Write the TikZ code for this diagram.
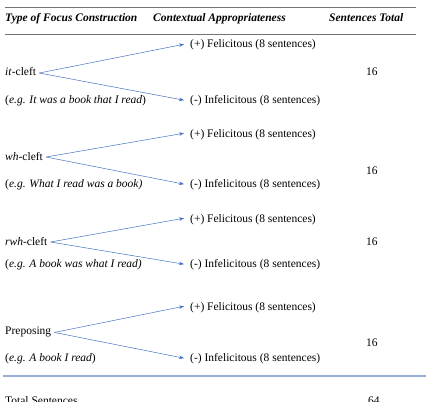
\documentclass[tikz,border=0pt]{standalone}
\usepackage{fontspec}
\setmainfont{Liberation Serif}
\usetikzlibrary{arrows.meta}
\definecolor{arrowblue}{RGB}{68,114,196}
\definecolor{rulegray}{RGB}{115,115,115}
\definecolor{ruleblue}{RGB}{150,175,210}
\begin{document}
\begin{tikzpicture}[x=1pt,y=-1pt,
  txt/.style={anchor=base west,inner sep=0pt,font=\fontsize{11.5}{14}\selectfont},
  hdr/.style={anchor=base west,inner sep=0pt,font=\fontsize{11.5}{14}\selectfont\bfseries\itshape},
  conn/.style={draw=arrowblue,line width=0.5pt,-{Stealth[length=5pt,width=3.5pt]}},
  toprule/.style={draw=rulegray,line width=0.8pt},
  botrule/.style={draw=ruleblue,line width=1.1pt}
]
\useasboundingbox (0,0) rectangle (435,401);
% header
\draw[toprule] (5,7) -- (416,7);
\node[hdr] (h1) at (5,22) {Type of Focus Construction};
\node[hdr] (h2) at (153,22) {Contextual Appropriateness};
\node[hdr] (h3) at (329,22) {Sentences Total};
\draw[toprule] (5,34) -- (416,34);
% row 1
\node[txt] (t1) at (5,76) {\textit{it}-cleft};
\node[txt] (e1) at (5,103) {(\textit{e.g. It was a book that I read})};
\node[txt] (f1) at (190,48) {(+) Felicitous (8 sentences)};
\node[txt] (i1) at (190,103) {(-) Infelicitous (8 sentences)};
\node[txt] (n1) at (366,76) {16};
\draw[conn] ([xshift=3pt,yshift=-1pt]t1.east) -- ([xshift=-6pt,yshift=1pt]f1.west);
\draw[conn] ([xshift=3pt,yshift=-1pt]t1.east) -- ([xshift=-6pt]i1.west);
% row 2
\node[txt] (t2) at (5,160) {\textit{wh}-cleft};
\node[txt] (e2) at (5,187) {(\textit{e.g. What I read was a book)}};
\node[txt] (f2) at (190,137) {(+) Felicitous (8 sentences)};
\node[txt] (i2) at (190,187) {(-) Infelicitous (8 sentences)};
\node[txt] (n2) at (366,174) {16};
\draw[conn] ([xshift=3pt,yshift=-1pt]t2.east) -- ([xshift=-6pt,yshift=1pt]f2.west);
\draw[conn] ([xshift=3pt,yshift=-1pt]t2.east) -- ([xshift=-6pt]i2.west);
% row 3
\node[txt] (t3) at (5,245) {\textit{rwh}-cleft};
\node[txt] (e3) at (5,267) {(\textit{e.g. A book was what I read)}};
\node[txt] (f3) at (190,222) {(+) Felicitous (8 sentences)};
\node[txt] (i3) at (190,267) {(-) Infelicitous (8 sentences)};
\node[txt] (n3) at (366,245) {16};
\draw[conn] ([xshift=3pt,yshift=-1pt]t3.east) -- ([xshift=-6pt,yshift=1pt]f3.west);
\draw[conn] ([xshift=3pt,yshift=-1pt]t3.east) -- ([xshift=-6pt]i3.west);
% row 4
\node[txt] (t4) at (5,334) {Preposing};
\node[txt] (e4) at (5,361) {(\textit{e.g. A book I read})};
\node[txt] (f4) at (190,310) {(+) Felicitous (8 sentences)};
\node[txt] (i4) at (190,361) {(-) Infelicitous (8 sentences)};
\node[txt] (n4) at (366,346) {16};
\draw[conn] ([xshift=3pt,yshift=-1pt]t4.east) -- ([xshift=-6pt,yshift=1pt]f4.west);
\draw[conn] ([xshift=3pt,yshift=-1pt]t4.east) -- ([xshift=-6pt]i4.west);
% total
\draw[botrule] (3,376) -- (426,376);
\node[txt] (tot) at (5,404) {Total Sentences};
\node[txt] (n5) at (368,404) {64};
\end{tikzpicture}
\end{document}
